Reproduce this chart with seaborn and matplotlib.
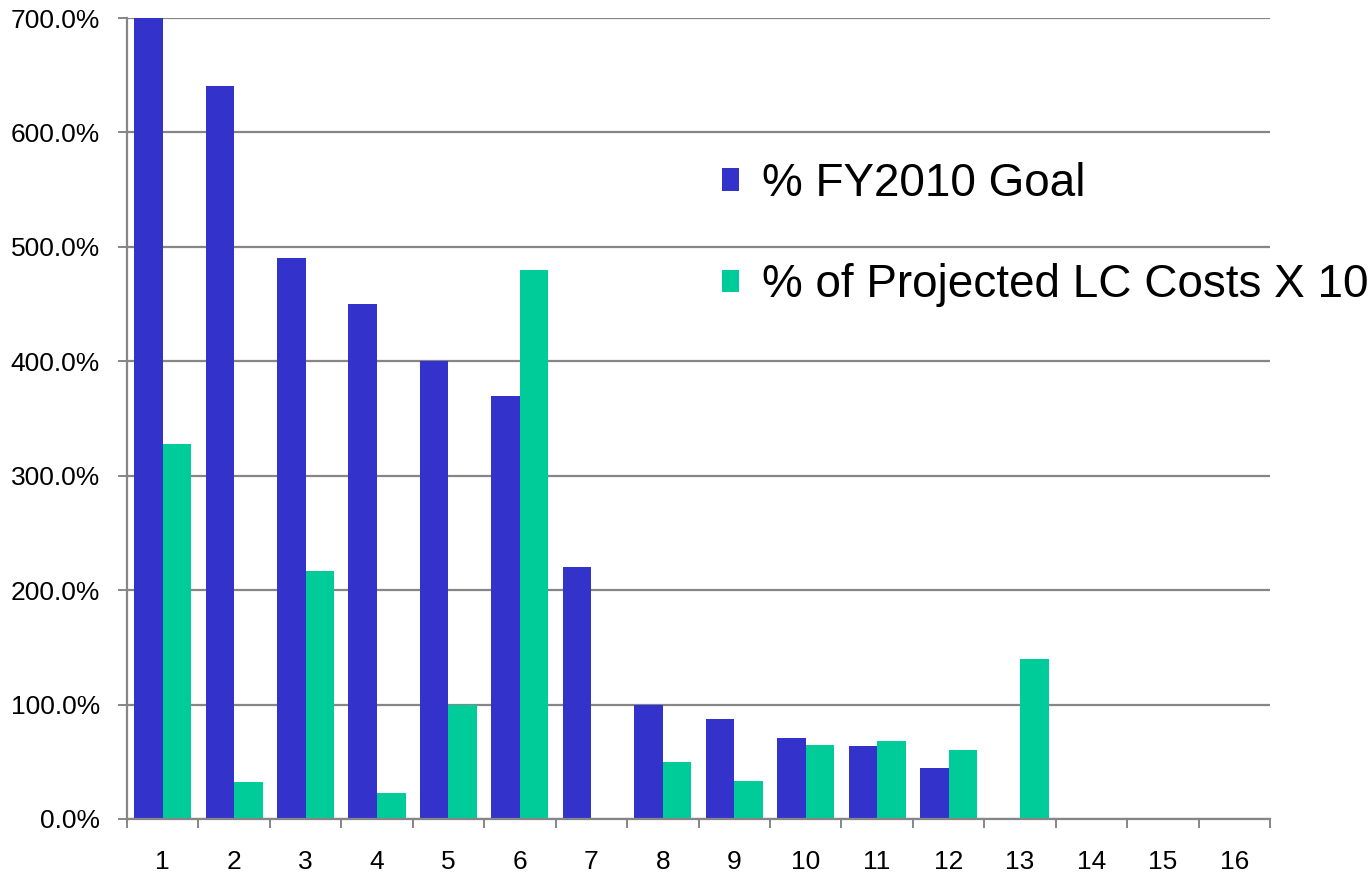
import numpy as np
import pandas as pd
import matplotlib
matplotlib.use("Agg")
import matplotlib.pyplot as plt
from matplotlib.ticker import FixedLocator, FuncFormatter
import seaborn as sns

# data (percent)
categories = [str(i) for i in range(1, 17)]
goal_pct = [700, 641, 490, 450, 400, 370, 220, 100, 87, 71, 64, 45, np.nan, np.nan, np.nan, np.nan]
lc_cost_pct = [328, 32, 217, 23, 100, 480, np.nan, 50, 33, 65, 68, 60, 140, np.nan, np.nan, np.nan]
series_names = ["% FY2010 Goal", "% of Projected LC Costs X 10"]
series_colors = ["#3333CC", "#00CC99"]

df = pd.DataFrame({
    "category": categories * 2,
    "value": goal_pct + lc_cost_pct,
    "series": [series_names[0]] * 16 + [series_names[1]] * 16,
})

sns.set_style("white")
plt.rcParams["font.family"] = ["Liberation Sans", "DejaVu Sans"]
plt.rcParams["text.color"] = "black"
plt.rcParams["xtick.color"] = "black"
plt.rcParams["ytick.color"] = "black"

fig = plt.figure(figsize=(13.7, 8.81), dpi=100)
ax = fig.add_axes([127 / 1370, 1 - 819 / 881, (1270 - 127) / 1370, (819 - 18) / 881])

sns.barplot(data=df, x="category", y="value", hue="series", order=categories,
            hue_order=series_names, palette=series_colors, saturation=1,
            errorbar=None, width=0.8, linewidth=0, ax=ax)

# axes
ax.set_ylim(0, 700)
ax.set_xlim(-0.5, 15.5)
ax.set_yticks(range(0, 701, 100))
ax.yaxis.set_major_formatter(FuncFormatter(lambda v, p: f"{v:.1f}%"))
ax.set_xlabel("")
ax.set_ylabel("")
ax.set_axisbelow(True)
ax.grid(axis="y", color="#868686", linewidth=1.6)
ax.grid(axis="x", visible=False)

grey = "#868686"
for s in ["top", "right"]:
    ax.spines[s].set_visible(False)
for s in ["left", "bottom"]:
    ax.spines[s].set_color(grey)
    ax.spines[s].set_linewidth(1.6)

ax.tick_params(axis="y", length=6.5, width=1.4, color=grey, labelcolor="black",
               pad=13, labelsize=19, direction="out", left=True)
ax.tick_params(axis="x", which="major", length=0, pad=22, labelsize=19,
               labelcolor="black")
ax.xaxis.set_minor_locator(FixedLocator(np.arange(-0.5, 16, 1)))
ax.tick_params(axis="x", which="minor", length=6.5, width=1.4, color=grey,
               direction="out", bottom=True)

# legend
handles, labels = ax.get_legend_handles_labels()
ax.legend(handles, labels, loc="upper left", bbox_to_anchor=(722 / 1370, 1 - 162 / 881),
          bbox_transform=fig.transFigure, frameon=False, fontsize=33,
          handlelength=0.37, handleheight=0.37, handletextpad=0.5,
          labelspacing=1.25, borderpad=0, borderaxespad=0, labelcolor="black")

fig.savefig("out.png", dpi=100)
